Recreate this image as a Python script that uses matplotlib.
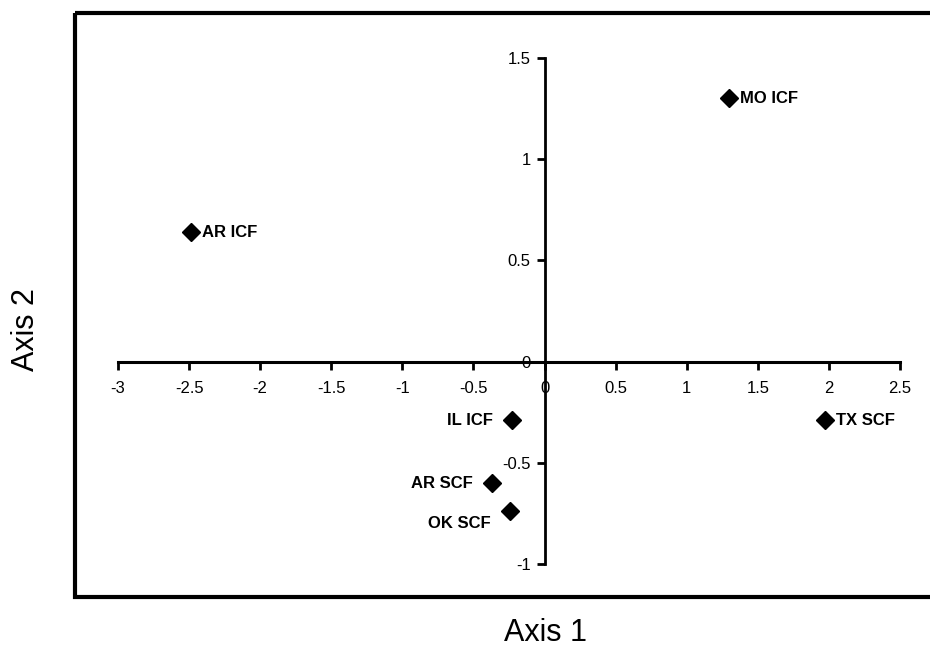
"""Ordination plot (Axis 1 vs Axis 2) with axes crossing at the origin."""

import matplotlib.pyplot as plt
from matplotlib.patches import Rectangle

plt.rcParams["font.family"] = ["Liberation Sans", "DejaVu Sans"]

LABELS = ["MO ICF", "AR ICF", "TX SCF", "IL ICF", "AR SCF", "OK SCF"]
AXIS1 = [1.30, -2.49, 1.97, -0.23, -0.37, -0.24]
AXIS2 = [1.30, 0.64, -0.29, -0.29, -0.60, -0.74]
# which side each label sits on
LABEL_SIDE = ["right", "right", "right", "left", "left", "left"]

X_TICKS = [-3, -2.5, -2, -1.5, -1, -0.5, 0, 0.5, 1, 1.5, 2, 2.5]
Y_TICKS = [-1, -0.5, 0, 0.5, 1, 1.5]

W, H = 930, 657

fig = plt.figure(figsize=(W / 100, H / 100), dpi=100)

# outer frame (runs off the right edge like the scan)
frame = fig.add_axes([0, 0, 1, 1])
frame.set_xlim(0, W)
frame.set_ylim(H, 0)
frame.axis("off")
frame.add_patch(Rectangle((75, 13), 900, 584, fill=False, edgecolor="black", linewidth=3.0))

ax = fig.add_axes([118 / W, 1 - 564 / H, 782 / W, 506 / H])
ax.set_facecolor("none")
ax.set_xlim(-3, 2.5)
ax.set_ylim(-1, 1.5)
for side in ("top", "right"):
    ax.spines[side].set_visible(False)
ax.spines["left"].set_position(("data", 0))
ax.spines["bottom"].set_position(("data", 0))
ax.spines["left"].set_linewidth(2.0)
ax.spines["bottom"].set_linewidth(2.2)
ax.set_xticks(X_TICKS)
ax.set_yticks(Y_TICKS)
ax.set_xticklabels([f"{t:g}" for t in X_TICKS])
ax.set_yticklabels([f"{t:g}" for t in Y_TICKS])
ax.tick_params(axis="both", direction="out", length=6, width=2, labelsize=12)
ax.tick_params(axis="x", pad=8)
ax.tick_params(axis="y", pad=4)

ax.plot(AXIS1, AXIS2, linestyle="none", marker="D", markersize=9.5,
        color="black", clip_on=False)

for name, x, y, side in zip(LABELS, AXIS1, AXIS2, LABEL_SIDE):
    dy = -9 if name == "OK SCF" else 0
    dx = 8 if side == "right" else -14
    ax.annotate(name, (x, y), xytext=(dx, dy), textcoords="offset points",
                ha="left" if side == "right" else "right", va="center",
                fontsize=12, fontweight="bold")

fig.text(545 / W, 1 - 633 / H, "Axis 1", ha="center", va="center", fontsize=22)
fig.text(26 / W, 1 - 330 / H, "Axis 2", ha="center", va="center", fontsize=22,
         rotation=90)

fig.savefig("out.png", dpi=100)
